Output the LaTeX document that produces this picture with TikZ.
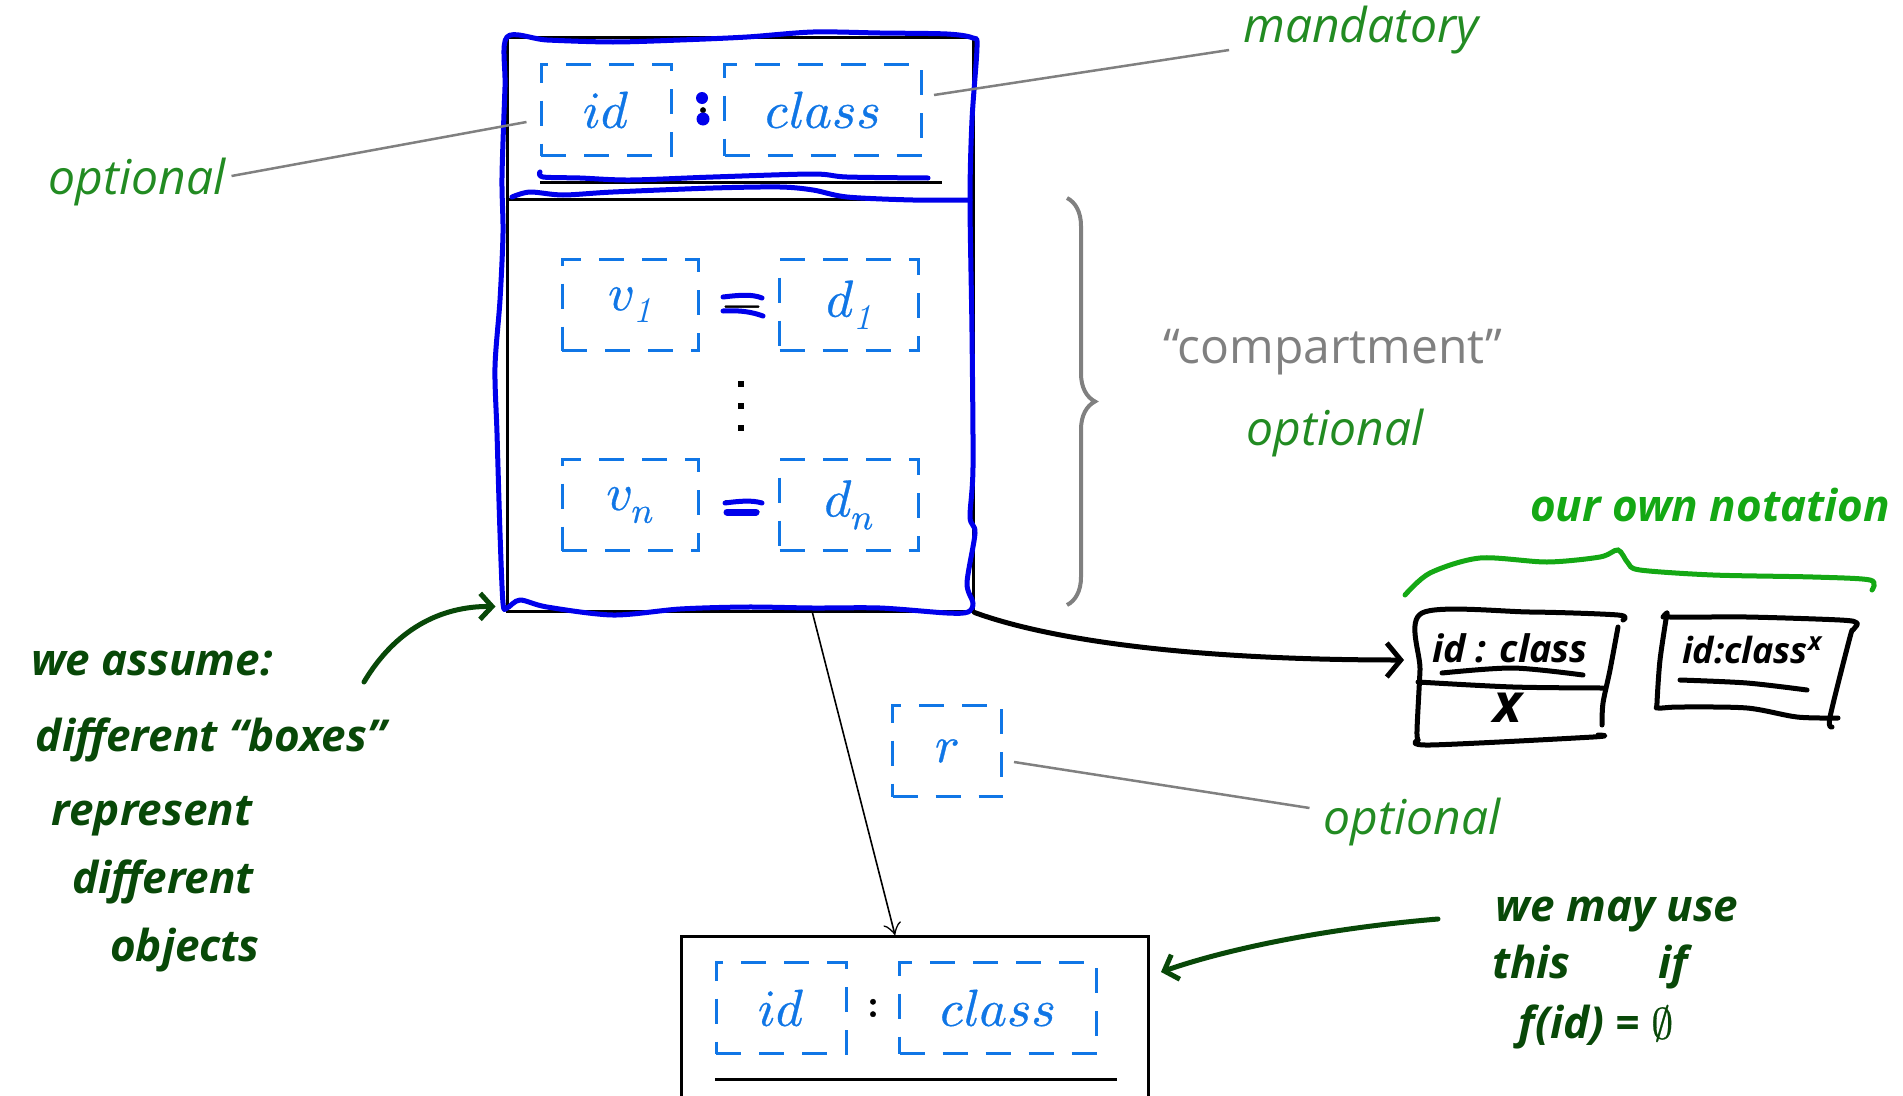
\documentclass[tikz,border=0pt]{standalone}
\usepackage{fontspec}
\usepackage{unicode-math}
\setmathfont{Latin Modern Math}[FakeBold=0.6]
\setsansfont{Open Sans}
\usetikzlibrary{arrows.meta,decorations.pathreplacing}

\definecolor{slotblue}{RGB}{16,118,230}
\definecolor{penblue}{RGB}{0,0,235}
\definecolor{notegreen}{RGB}{34,139,34}
\definecolor{inkgreen}{RGB}{8,72,8}
\definecolor{litegreen}{RGB}{20,168,20}
\definecolor{leadgray}{RGB}{128,128,128}

\begin{document}
\begin{tikzpicture}[x=1pt,y=-1pt,
    box/.style={draw, line width=3pt, inner sep=0pt},
    slot/.style={draw=slotblue, line width=3pt, dash pattern=on 25pt off 18pt,
      minimum height=91pt, inner sep=0pt, text=slotblue,
      font=\fontsize{52}{60}\selectfont},
    sym/.style={inner sep=0pt, font=\fontsize{52}{60}\selectfont},
    note/.style={inner sep=0pt, text=notegreen,
      font=\sffamily\itshape\fontsize{48}{56}\selectfont},
    leader/.style={leadgray, line width=2.5pt},
    pen/.style={penblue, line width=5pt, line cap=round, line join=round},
    scrawl/.style={inner sep=0pt, text=inkgreen,
      font=\sffamily\bfseries\itshape\fontsize{44}{52}\selectfont},
    ink/.style={inkgreen, line width=5pt, line cap=round, line join=round},
    sketch/.style={black, line width=5pt, line cap=round, line join=round}]
  \useasboundingbox (0,0) rectangle (1903,1095);
  \clip (0,0) rectangle (1903,1095);

  % object box: name compartment and slot compartment
  \node[box, minimum width=466pt, minimum height=574pt] (obj) at (740,324) {};
  \draw[line width=3pt] (obj.west |- 0,199) -- (obj.east |- 0,199);
  \draw[line width=3pt] (540,182) -- (942,182);

  \node[slot, minimum width=130pt] (id1) at (606,110) {$id$};
  \node[sym] (colon1) at (703,106) {$:$};
  \node[slot, minimum width=197pt] (class1) at (823,110) {$class$};

  \node[slot, minimum width=136pt] (v1) at (630,305) {$v_{\textit{1}}$};
  \node[sym] (eq1) at (742,305) {$=$};
  \node[slot, minimum width=139pt] (d1) at (849,305) {$d_{\textit{1}}$};
  \node[slot, minimum width=136pt] (vn) at (630,505) {$v_n$};
  \node[sym] (eqn) at (742,510) {$=$};
  \node[slot, minimum width=139pt] (dn) at (849,505) {$d_n$};
  % vertical dots between the slot rows
  \foreach \y in {387,409,431}
    \fill (738,\y) rectangle +(6,-6);

  % pen marks over the object box
  \draw[pen] plot[smooth cycle] coordinates {(507,37) (547,40) (613,42) (680,40)
    (747,37) (813,32) (880,33) (947,34) (973,38) (977,47) (972,120) (970,200)
    (972,333) (973,467) (970,517) (975,533) (967,583) (973,603) (968,612)
    (947,613) (880,608) (813,608) (747,607) (680,609) (613,615) (547,607)
    (520,600) (507,608) (503,603) (500,533) (497,433) (495,367) (500,300)
    (503,233) (502,177) (505,87)};
  \draw[pen] plot[smooth] coordinates {(512,197) (530,192) (563,195) (613,192)
    (713,188) (780,187) (813,190) (847,197) (913,200) (970,200)};
  \draw[pen] plot[smooth] coordinates {(540,172) (543,177) (580,178) (630,180)
    (713,177) (813,174) (847,177) (928,178)};
  \fill[penblue] (702,98) circle (6pt) (703,119) circle (6.5pt);
  \draw[pen] (723,297) .. controls (740,295) and (752,294) .. (762,298);
  \draw[pen] (723,311) .. controls (740,310) and (752,312) .. (763,316);
  \draw[pen] (725,503) .. controls (740,501) and (752,500) .. (762,503);
  \draw[pen, line width=7pt] (727,512) -- (756,512);

  % grey leaders and notes
  \node[note] (optid) at (137,182) {optional};
  \draw[leader] ([shift={(-13,12)}]id1.west) -- ([shift={(6,-6)}]optid.east);
  \node[note] (mand) at (1361,30) {mandatory};
  \draw[leader] ([shift={(11,-15)}]class1.east) -- ([shift={(-14,20)}]mand.west);

  \draw[leadgray, line width=4pt, decorate, decoration={brace, amplitude=28pt}]
    (1067,198) -- (1067,605);
  \node[inner sep=0pt, text=leadgray, font=\sffamily\fontsize{48}{56}\selectfont]
    (comp) at (1333,352) {“compartment”};
  \node[note] (optcomp) at (1335,433) {optional};

  \node[slot, minimum width=109pt] (role) at (947,751) {$r$};
  \node[note] (optrole) at (1412,822) {optional};
  \draw[leader] ([shift={(11,11)}]role.east) -- ([shift={(-14,-14)}]optrole.west);

  % anonymous object below
  \node[box, minimum width=467pt, minimum height=320pt, anchor=north] (anon) at (915,935) {};
  \node[slot, minimum width=130pt] (id2) at (781,1008) {$id$};
  \node[sym] (colon2) at (873,1010) {$:$};
  \node[slot, minimum width=197pt] (class2) at (998,1008) {$class$};
  \draw[line width=3pt] (715,1079) -- (1117,1079);

  \coordinate (linkfoot) at (812,611);
  \draw[line width=1.6pt, -{Classical TikZ Rightarrow[length=12pt, width=18pt]}]
    (linkfoot) -- (anon.north -| 895,0);

  % own notation, sketched
  \node[scrawl, text=litegreen] (ownnote) at (1710,505) {our own notation};
  \draw[litegreen, line width=5pt, line cap=round] plot[smooth] coordinates {(1405,595)
    (1430,573) (1480,558) (1547,562) (1600,557) (1618,550) (1628,563) (1640,570)
    (1713,575) (1813,577) (1870,580) (1872,590)};

  \draw[sketch] plot[smooth] coordinates {(1418,740) (1417,730) (1420,670) (1422,613)
    (1530,612) (1618,615) (1623,620)};
  \draw[sketch] plot[smooth] coordinates {(1618,627) (1610,670) (1603,703) (1602,725)};
  \draw[sketch] plot[smooth] coordinates {(1418,740) (1430,745) (1593,737) (1598,735)};
  \draw[sketch] plot[smooth] coordinates {(1418,682) (1513,687) (1603,688)};
  \node[scrawl, text=black, font=\sffamily\bfseries\itshape\fontsize{38}{44}\selectfont]
    (own1) at (1510,648) {id : class};
  \draw[sketch] plot[smooth] coordinates {(1442,673) (1513,668) (1583,675)};
  \node[scrawl, text=black, font=\sffamily\bfseries\itshape\fontsize{54}{60}\selectfont]
    (own1x) at (1508,708) {x};

  \draw[sketch] plot[smooth] coordinates {(1663,617) (1667,613) (1670,617)
    (1747,617) (1840,620) (1857,623) (1853,630) (1850,637) (1830,717) (1832,727)};
  \draw[sketch] plot[smooth] coordinates {(1667,613) (1660,660) (1657,703)
    (1658,708) (1680,707) (1747,708) (1797,717) (1838,718)};
  \node[scrawl, text=black, font=\sffamily\bfseries\itshape\fontsize{36}{44}\selectfont]
    (own2) at (1752,650) {id:class\textsuperscript{x}};
  \draw[sketch] plot[smooth] coordinates {(1680,680) (1747,683) (1807,690)};

  \coordinate (owntip) at (1404,660);
  \draw[sketch, -{Straight Barb[length=14pt, width=34pt]}]
    (obj.south east) .. controls (1050,640) and (1190,660) .. (owntip);

  % handwritten remarks
  \node[scrawl] (assume1) at (152,664) {we assume:};
  \node[scrawl] (assume2) at (211,740) {different “boxes”};
  \node[scrawl] (assume3) at (152,816) {represent};
  \node[scrawl] (assume4) at (163,882) {different};
  \node[scrawl] (assume5) at (185,950) {objects};
  \coordinate (assumetail) at (364,682);
  \draw[ink, -{Straight Barb[length=12pt, width=26pt]}]
    (assumetail) .. controls (395,630) and (440,606) .. ([shift={(-10,-6)}]obj.south west);

  \node[scrawl] (may1) at (1617,915) {we may use};
  \node[scrawl] (may2) at (1590,967) {this\qquad if};
  \node[scrawl] (may3) at (1596,1027) {f(id) = $\emptyset$};
  \coordinate (maytail) at (1438,919);
  \draw[ink, -{Straight Barb[length=12pt, width=26pt]}]
    (maytail) .. controls (1330,928) and (1230,948) .. ([shift={(11,37)}]anon.north east);
\end{tikzpicture}
\end{document}
